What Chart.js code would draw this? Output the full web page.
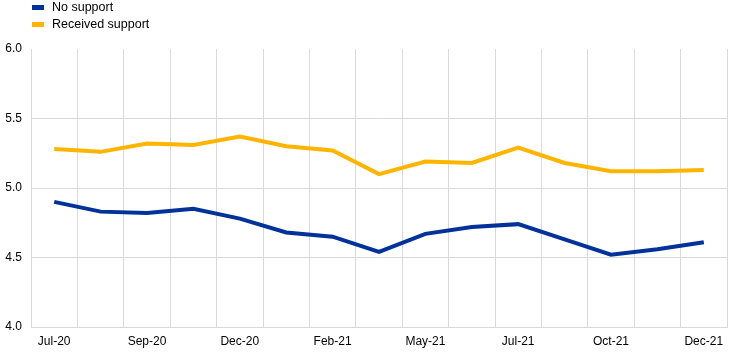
<!DOCTYPE html>
<html>
<head>
<meta charset="utf-8">
<script src="https://cdn.jsdelivr.net/npm/chart.js@4"></script>
<style>
  html, body { margin: 0; padding: 0; background: #fff; }
  #wrap { position: relative; width: 747px; height: 355px; }
  canvas { position: absolute; left: 0; top: 0; }
  .legend { position: absolute; left: 32px; top: 0; font-family: "Liberation Sans", Arial, sans-serif; font-size: 12.5px; color: #000; }
  .item { position: relative; height: 17px; line-height: 15px; padding-left: 20px; white-space: nowrap; }
  .sw { position: absolute; left: 0; top: 5px; width: 12px; height: 5px; }
</style>
</head>
<body>
<div id="wrap">
  <canvas id="c" width="747" height="355"></canvas>
  <div class="legend" id="legend"></div>
</div>
<script>
const categories = ['Jul-20','Aug-20','Sep-20','Nov-20','Dec-20','Jan-21','Feb-21','Apr-21','May-21','Jun-21','Jul-21','Sep-21','Oct-21','Nov-21','Dec-21'];
const noSupport = [4.90, 4.83, 4.82, 4.85, 4.78, 4.68, 4.65, 4.54, 4.67, 4.72, 4.74, 4.63, 4.52, 4.56, 4.61];
const receivedSupport = [5.28, 5.26, 5.32, 5.31, 5.37, 5.30, 5.27, 5.10, 5.19, 5.18, 5.29, 5.18, 5.12, 5.12, 5.13];
const seriesNames = ['No support', 'Received support'];
const seriesColors = ['#003299', '#ffb400'];
const yTicks = [4.0, 4.5, 5.0, 5.5, 6.0];

const legendEl = document.getElementById('legend');
seriesNames.forEach((n, i) => {
  const d = document.createElement('div');
  d.className = 'item';
  d.innerHTML = '<span class="sw" style="background:' + seriesColors[i] + '"></span>' + n;
  legendEl.appendChild(d);
});

const gridColor = '#d9d9d9';
const font = { family: '"Liberation Sans", Arial, sans-serif', size: 12 };

new Chart(document.getElementById('c'), {
  type: 'line',
  data: {
    labels: categories,
    datasets: [
      { label: seriesNames[0], data: noSupport, borderColor: seriesColors[0], backgroundColor: seriesColors[0], borderWidth: 4, pointRadius: 0, tension: 0, fill: false },
      { label: seriesNames[1], data: receivedSupport, borderColor: seriesColors[1], backgroundColor: seriesColors[1], borderWidth: 4, pointRadius: 0, tension: 0, fill: false }
    ]
  },
  options: {
    responsive: false,
    animation: false,
    events: [],
    layout: { padding: { top: 49, right: 20, left: 0, bottom: 0 } },
    plugins: { legend: { display: false }, tooltip: { enabled: false } },
    scales: {
      x: {
        type: 'category',
        offset: true,
        grid: { offset: true, color: gridColor, lineWidth: 1, drawTicks: false },
        border: { display: true, color: gridColor },
        ticks: {
          autoSkip: false, maxRotation: 0, minRotation: 0, padding: 7,
          color: '#000', font: font,
          callback: function(v, i) { return i % 2 === 0 ? categories[i] : ''; }
        },
        afterFit: function(s) { s.height = 28; }
      },
      y: {
        min: 4.0, max: 6.0,
        afterBuildTicks: function(s) { s.ticks = yTicks.map(v => ({ value: v })); },
        grid: {
          drawTicks: false, lineWidth: 1,
          color: function(ctx) { return (ctx.tick && ctx.tick.value === 6.0) ? 'rgba(0,0,0,0)' : gridColor; }
        },
        border: { display: true, color: gridColor },
        ticks: { padding: 9, color: '#000', font: font, callback: v => v.toFixed(1) },
        afterFit: function(s) { s.width = 31; }
      }
    }
  }
});
</script>
</body>
</html>
